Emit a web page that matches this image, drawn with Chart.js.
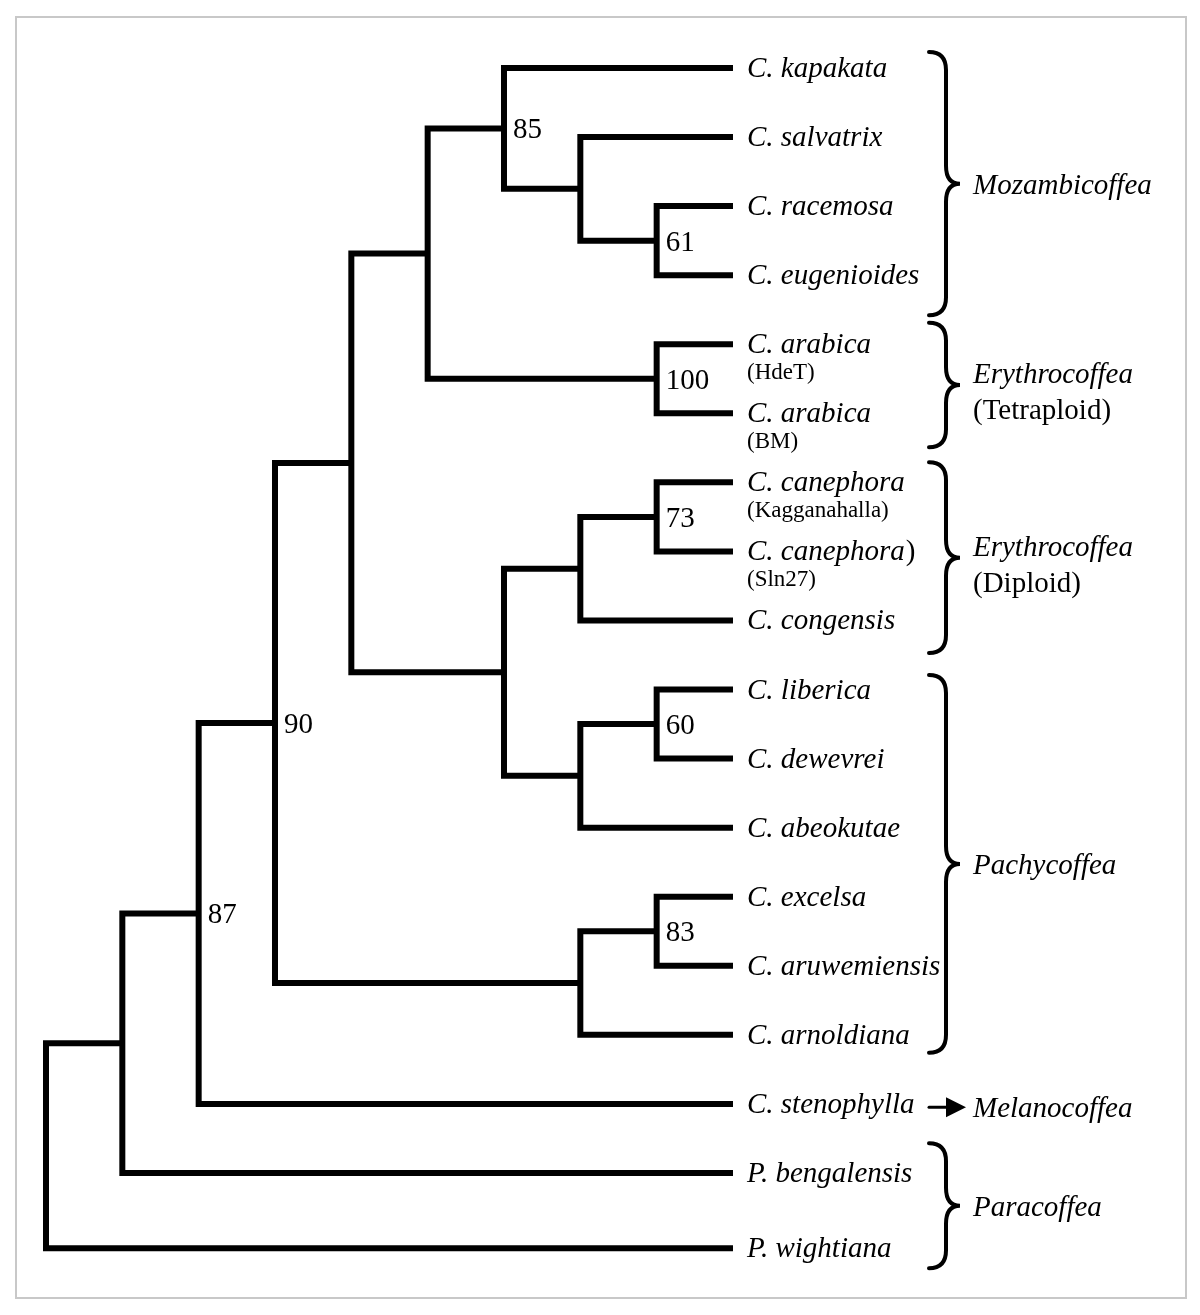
<!DOCTYPE html>
<html>
<head>
<meta charset="utf-8">
<script src="https://cdn.jsdelivr.net/npm/chart.js@4.4.1/dist/chart.umd.min.js"></script>
<style>
  html, body { margin: 0; padding: 0; background: #ffffff; }
  #wrap { width: 1200px; height: 1315px; }
</style>
</head>
<body>
<div id="wrap"><canvas id="c" width="1200" height="1315"></canvas></div>
<script>
// ---------------- DATA ----------------
const taxa = [
  'C. kapakata', 'C. salvatrix', 'C. racemosa', 'C. eugenioides',
  'C. arabica', 'C. arabica', 'C. canephora', 'C. canephora',
  'C. congensis', 'C. liberica', 'C. dewevrei', 'C. abeokutae',
  'C. excelsa', 'C. aruwemiensis', 'C. arnoldiana', 'C. stenophylla',
  'P. bengalensis', 'P. wightiana'
];
const taxonSuffix = ['', '', '', '', '', '', '', ')', '', '', '', '', '', '', '', '', '', ''];
const taxonNotes = ['', '', '', '', '(HdeT)', '(BM)', '(Kagganahalla)', '(Sln27)', '', '', '', '', '', '', '', '', '', ''];
// row of each leaf (top to bottom)
const leafRows = [0, 1, 2, 3, 4, 5, 6, 7, 8, 9, 10, 11, 12, 13, 14, 15, 16, 17.09];
const leafDepth = 9;

// internal nodes (cladogram)
const nodeIds    = ['K', 'J', 'H', 'I', 'F', 'N', 'L', 'O', 'M', 'G', 'D', 'P', 'E', 'C', 'B', 'A', 'R'];
const nodeDepth  = [8, 7, 6, 8, 5, 8, 7, 8, 7, 6, 4, 8, 7, 3, 2, 1, 0];
const nodeKidA   = ['t2', 't1', 't0', 't4', 'H', 't6', 'N', 't9', 'O', 'L', 'F', 't12', 'P', 'D', 'C', 'B', 'A'];
const nodeKidB   = ['t3', 'K', 'J', 't5', 'I', 't7', 't8', 't10', 't11', 'M', 'G', 't13', 't14', 'E', 't15', 't16', 't17'];
const bootstrap  = [61, null, 85, 100, null, 73, null, 60, null, null, null, 83, null, 90, 87, null, null];

// groups (row ranges covered by the braces)
const groupNames     = ['Mozambicoffea', 'Erythrocoffea', 'Erythrocoffea', 'Pachycoffea', 'Melanocoffea', 'Paracoffea'];
const groupSubtitles = ['', '(Tetraploid)', '(Diploid)', '', '', ''];
const groupStart     = [-0.23, 3.69, 5.71, 8.79, 15.05, 15.57];
const groupEnd       = [3.58, 5.49, 8.47, 14.26, 15.05, 17.38];
const groupMark      = ['brace', 'brace', 'brace', 'brace', 'arrow', 'brace'];

// ---------------- TREE LAYOUT (from data) ----------------
const pos = {};
taxa.forEach((t, i) => { pos['t' + i] = { d: leafDepth, r: leafRows[i] }; });
nodeIds.forEach((id, i) => {
  const a = pos[nodeKidA[i]], b = pos[nodeKidB[i]];
  pos[id] = { d: nodeDepth[i], r: (a.r + b.r) / 2 };
});

const datasets = nodeIds.map((id, i) => {
  const n = pos[id], a = pos[nodeKidA[i]], b = pos[nodeKidB[i]];
  return {
    label: id,
    data: [
      { x: a.d, y: a.r },
      { x: n.d, y: a.r },
      { x: n.d, y: b.r },
      { x: b.d, y: b.r }
    ],
    showLine: true,
    borderColor: '#000000',
    borderWidth: 6,
    borderJoinStyle: 'miter',
    borderCapStyle: 'butt',
    pointRadius: 0,
    pointHoverRadius: 0,
    tension: 0,
    fill: false
  };
});

// ---------------- DRAWING PLUGIN ----------------
const SERIF = '"Liberation Serif", "Times New Roman", "DejaVu Serif", serif';

const framePlugin = {
  id: 'frame',
  beforeDraw(chart) {
    const ctx = chart.ctx;
    ctx.save();
    ctx.fillStyle = '#ffffff';
    ctx.fillRect(0, 0, chart.width, chart.height);
    ctx.strokeStyle = '#c8c8c8';
    ctx.lineWidth = 2;
    ctx.strokeRect(16, 17, 1170, 1281);
    ctx.restore();
  }
};

function drawBrace(ctx, x, y1, y2) {
  const ym = (y1 + y2) / 2;
  const r = 18, w = 14, hook = 17;
  ctx.beginPath();
  ctx.moveTo(x - hook, y1);
  ctx.quadraticCurveTo(x, y1, x, y1 + r);
  ctx.lineTo(x, ym - r);
  ctx.quadraticCurveTo(x, ym, x + w, ym);
  ctx.quadraticCurveTo(x, ym, x, ym + r);
  ctx.lineTo(x, y2 - r);
  ctx.quadraticCurveTo(x, y2, x - hook, y2);
  ctx.stroke();
}

const labelPlugin = {
  id: 'labels',
  afterDatasetsDraw(chart) {
    const ctx = chart.ctx;
    const xs = chart.scales.x, ys = chart.scales.y;
    ctx.save();
    ctx.fillStyle = '#000';
    ctx.textBaseline = 'alphabetic';
    ctx.textAlign = 'left';

    // taxon labels
    taxa.forEach((name, i) => {
      const x = xs.getPixelForValue(leafDepth) + 14;
      const y = ys.getPixelForValue(leafRows[i]);
      ctx.font = 'italic 29px ' + SERIF;
      ctx.fillText(name, x, y + 9);
      if (taxonSuffix[i]) {
        const w = ctx.measureText(name).width;
        ctx.font = '29px ' + SERIF;
        ctx.fillText(taxonSuffix[i], x + w + 1, y + 9);
      }
      if (taxonNotes[i]) {
        ctx.font = '23px ' + SERIF;
        ctx.fillText(taxonNotes[i], x, y + 35);
      }
    });

    // bootstrap values
    ctx.font = '29px ' + SERIF;
    nodeIds.forEach((id, i) => {
      if (bootstrap[i] == null) return;
      const n = pos[id];
      ctx.fillText(String(bootstrap[i]), xs.getPixelForValue(n.d) + 9, ys.getPixelForValue(n.r) + 10);
    });

    // groups
    const stemX = 946;
    ctx.strokeStyle = '#000';
    ctx.lineWidth = 4;
    ctx.lineCap = 'round';
    groupNames.forEach((g, i) => {
      const y1 = ys.getPixelForValue(groupStart[i]);
      const y2 = ys.getPixelForValue(groupEnd[i]);
      const ym = (y1 + y2) / 2;
      if (groupMark[i] === 'brace') {
        drawBrace(ctx, stemX, y1, y2);
      } else {
        ctx.lineWidth = 3;
        ctx.beginPath();
        ctx.moveTo(929, ym);
        ctx.lineTo(950, ym);
        ctx.stroke();
        ctx.beginPath();
        ctx.moveTo(946, ym - 10);
        ctx.lineTo(966, ym);
        ctx.lineTo(946, ym + 10);
        ctx.closePath();
        ctx.fill();
        ctx.lineWidth = 4;
      }
      const tx = 973;
      if (groupSubtitles[i]) {
        ctx.font = 'italic 29px ' + SERIF;
        ctx.fillText(g, tx, ym - 2);
        ctx.font = '29px ' + SERIF;
        ctx.fillText(groupSubtitles[i], tx, ym + 34);
      } else {
        ctx.font = 'italic 29px ' + SERIF;
        ctx.fillText(g, tx, ym + 10);
      }
    });
    ctx.restore();
  }
};

// scales chosen so that depth/row units map onto the figure
new Chart(document.getElementById('c'), {
  type: 'scatter',
  data: { datasets },
  options: {
    responsive: false,
    devicePixelRatio: 1,
    animation: false,
    layout: { padding: 0 },
    plugins: { legend: { display: false }, tooltip: { enabled: false }, title: { display: false } },
    events: [],
    scales: {
      x: { type: 'linear', min: -0.6026, max: 15.118, display: false },
      y: { type: 'linear', min: -0.9846, max: 18.057, reverse: true, display: false }
    }
  },
  plugins: [framePlugin, labelPlugin]
});
</script>
</body>
</html>
